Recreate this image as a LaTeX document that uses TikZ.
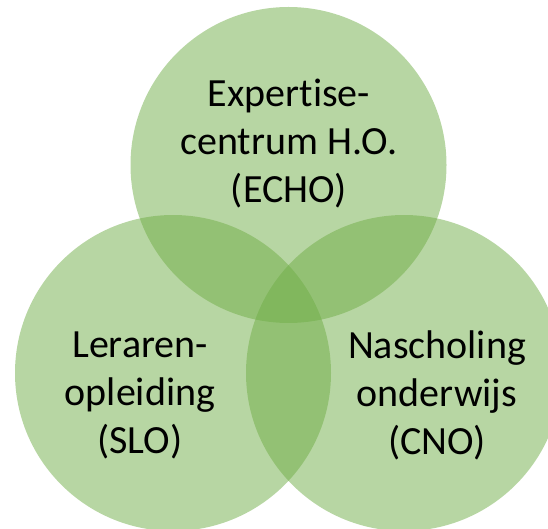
\documentclass[tikz,border=0pt]{standalone}
\usepackage{fontspec}
\setmainfont{Carlito}[Ligatures=NoCommon]
\usepackage{tikz}
\usetikzlibrary{positioning}
\definecolor{setgreen}{HTML}{70AD47}

\begin{document}
\begin{tikzpicture}[x=1pt, y=1pt,
                every node/.append style={align=center, font=\fontsize{40}{48}\selectfont},
                set/.style={circle, fill=setgreen, fill opacity=0.5, inner sep=0pt, minimum size=316pt}]

\useasboundingbox (0,0) rectangle (548,528);

\node[set] (echo) at (288.5,363) {};
\node[set] (slo) at (173,155) {};
\node[set] (cno) at (404,155) {};

\node (echotxt) at (289,384) {Expertise-\\centrum H.O.\\(ECHO)};
\node (slotxt) at (140,133) {Leraren-\\opleiding\\(SLO)};
\node (cnotxt) at (437,133) {Nascholing\\onderwijs\\(CNO)};

\end{tikzpicture}
\end{document}
